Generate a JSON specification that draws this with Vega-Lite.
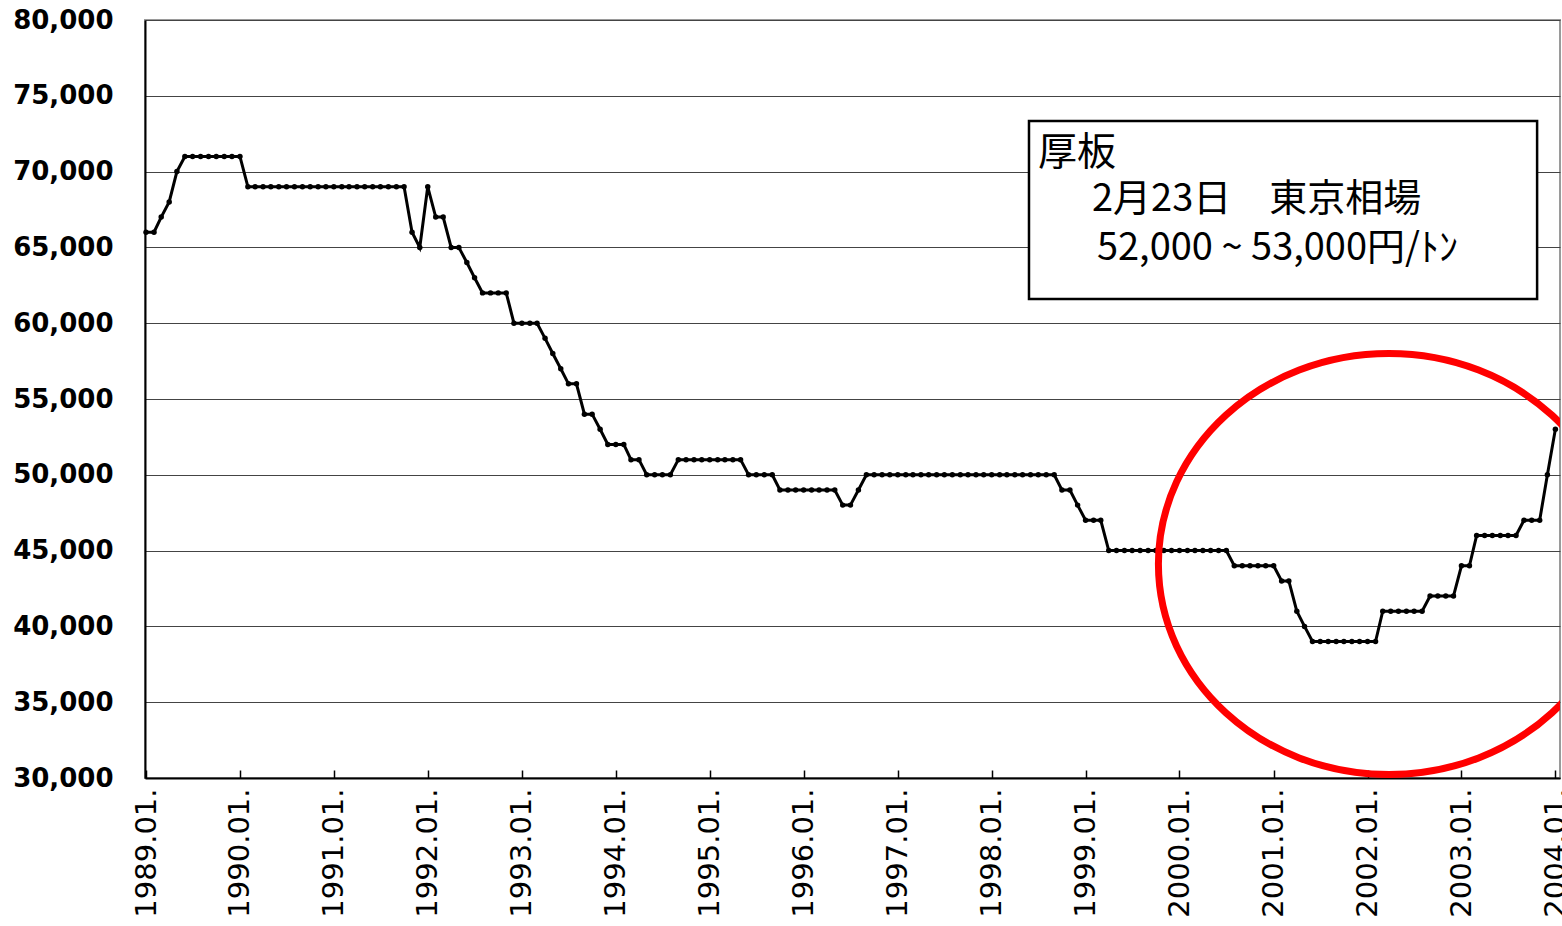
{
  "$schema": "https://vega.github.io/schema/vega-lite/v6.json",
  "width": 1415,
  "height": 758,
  "autosize": {"type": "none"},
  "padding": {"left": 145, "top": 20, "right": 2, "bottom": 148},
  "background": "white",
  "config": {"view": {"stroke": "#9a9a9a", "strokeWidth": 2}, "font": "DejaVu Sans"},
  "data": {"values": [
    {"month": "1989-01-01", "price": 66000},
    {"month": "1989-02-01", "price": 66000},
    {"month": "1989-03-01", "price": 67000},
    {"month": "1989-04-01", "price": 68000},
    {"month": "1989-05-01", "price": 70000},
    {"month": "1989-06-01", "price": 71000},
    {"month": "1989-07-01", "price": 71000},
    {"month": "1989-08-01", "price": 71000},
    {"month": "1989-09-01", "price": 71000},
    {"month": "1989-10-01", "price": 71000},
    {"month": "1989-11-01", "price": 71000},
    {"month": "1989-12-01", "price": 71000},
    {"month": "1990-01-01", "price": 71000},
    {"month": "1990-02-01", "price": 69000},
    {"month": "1990-03-01", "price": 69000},
    {"month": "1990-04-01", "price": 69000},
    {"month": "1990-05-01", "price": 69000},
    {"month": "1990-06-01", "price": 69000},
    {"month": "1990-07-01", "price": 69000},
    {"month": "1990-08-01", "price": 69000},
    {"month": "1990-09-01", "price": 69000},
    {"month": "1990-10-01", "price": 69000},
    {"month": "1990-11-01", "price": 69000},
    {"month": "1990-12-01", "price": 69000},
    {"month": "1991-01-01", "price": 69000},
    {"month": "1991-02-01", "price": 69000},
    {"month": "1991-03-01", "price": 69000},
    {"month": "1991-04-01", "price": 69000},
    {"month": "1991-05-01", "price": 69000},
    {"month": "1991-06-01", "price": 69000},
    {"month": "1991-07-01", "price": 69000},
    {"month": "1991-08-01", "price": 69000},
    {"month": "1991-09-01", "price": 69000},
    {"month": "1991-10-01", "price": 69000},
    {"month": "1991-11-01", "price": 66000},
    {"month": "1991-12-01", "price": 65000},
    {"month": "1992-01-01", "price": 69000},
    {"month": "1992-02-01", "price": 67000},
    {"month": "1992-03-01", "price": 67000},
    {"month": "1992-04-01", "price": 65000},
    {"month": "1992-05-01", "price": 65000},
    {"month": "1992-06-01", "price": 64000},
    {"month": "1992-07-01", "price": 63000},
    {"month": "1992-08-01", "price": 62000},
    {"month": "1992-09-01", "price": 62000},
    {"month": "1992-10-01", "price": 62000},
    {"month": "1992-11-01", "price": 62000},
    {"month": "1992-12-01", "price": 60000},
    {"month": "1993-01-01", "price": 60000},
    {"month": "1993-02-01", "price": 60000},
    {"month": "1993-03-01", "price": 60000},
    {"month": "1993-04-01", "price": 59000},
    {"month": "1993-05-01", "price": 58000},
    {"month": "1993-06-01", "price": 57000},
    {"month": "1993-07-01", "price": 56000},
    {"month": "1993-08-01", "price": 56000},
    {"month": "1993-09-01", "price": 54000},
    {"month": "1993-10-01", "price": 54000},
    {"month": "1993-11-01", "price": 53000},
    {"month": "1993-12-01", "price": 52000},
    {"month": "1994-01-01", "price": 52000},
    {"month": "1994-02-01", "price": 52000},
    {"month": "1994-03-01", "price": 51000},
    {"month": "1994-04-01", "price": 51000},
    {"month": "1994-05-01", "price": 50000},
    {"month": "1994-06-01", "price": 50000},
    {"month": "1994-07-01", "price": 50000},
    {"month": "1994-08-01", "price": 50000},
    {"month": "1994-09-01", "price": 51000},
    {"month": "1994-10-01", "price": 51000},
    {"month": "1994-11-01", "price": 51000},
    {"month": "1994-12-01", "price": 51000},
    {"month": "1995-01-01", "price": 51000},
    {"month": "1995-02-01", "price": 51000},
    {"month": "1995-03-01", "price": 51000},
    {"month": "1995-04-01", "price": 51000},
    {"month": "1995-05-01", "price": 51000},
    {"month": "1995-06-01", "price": 50000},
    {"month": "1995-07-01", "price": 50000},
    {"month": "1995-08-01", "price": 50000},
    {"month": "1995-09-01", "price": 50000},
    {"month": "1995-10-01", "price": 49000},
    {"month": "1995-11-01", "price": 49000},
    {"month": "1995-12-01", "price": 49000},
    {"month": "1996-01-01", "price": 49000},
    {"month": "1996-02-01", "price": 49000},
    {"month": "1996-03-01", "price": 49000},
    {"month": "1996-04-01", "price": 49000},
    {"month": "1996-05-01", "price": 49000},
    {"month": "1996-06-01", "price": 48000},
    {"month": "1996-07-01", "price": 48000},
    {"month": "1996-08-01", "price": 49000},
    {"month": "1996-09-01", "price": 50000},
    {"month": "1996-10-01", "price": 50000},
    {"month": "1996-11-01", "price": 50000},
    {"month": "1996-12-01", "price": 50000},
    {"month": "1997-01-01", "price": 50000},
    {"month": "1997-02-01", "price": 50000},
    {"month": "1997-03-01", "price": 50000},
    {"month": "1997-04-01", "price": 50000},
    {"month": "1997-05-01", "price": 50000},
    {"month": "1997-06-01", "price": 50000},
    {"month": "1997-07-01", "price": 50000},
    {"month": "1997-08-01", "price": 50000},
    {"month": "1997-09-01", "price": 50000},
    {"month": "1997-10-01", "price": 50000},
    {"month": "1997-11-01", "price": 50000},
    {"month": "1997-12-01", "price": 50000},
    {"month": "1998-01-01", "price": 50000},
    {"month": "1998-02-01", "price": 50000},
    {"month": "1998-03-01", "price": 50000},
    {"month": "1998-04-01", "price": 50000},
    {"month": "1998-05-01", "price": 50000},
    {"month": "1998-06-01", "price": 50000},
    {"month": "1998-07-01", "price": 50000},
    {"month": "1998-08-01", "price": 50000},
    {"month": "1998-09-01", "price": 50000},
    {"month": "1998-10-01", "price": 49000},
    {"month": "1998-11-01", "price": 49000},
    {"month": "1998-12-01", "price": 48000},
    {"month": "1999-01-01", "price": 47000},
    {"month": "1999-02-01", "price": 47000},
    {"month": "1999-03-01", "price": 47000},
    {"month": "1999-04-01", "price": 45000},
    {"month": "1999-05-01", "price": 45000},
    {"month": "1999-06-01", "price": 45000},
    {"month": "1999-07-01", "price": 45000},
    {"month": "1999-08-01", "price": 45000},
    {"month": "1999-09-01", "price": 45000},
    {"month": "1999-10-01", "price": 45000},
    {"month": "1999-11-01", "price": 45000},
    {"month": "1999-12-01", "price": 45000},
    {"month": "2000-01-01", "price": 45000},
    {"month": "2000-02-01", "price": 45000},
    {"month": "2000-03-01", "price": 45000},
    {"month": "2000-04-01", "price": 45000},
    {"month": "2000-05-01", "price": 45000},
    {"month": "2000-06-01", "price": 45000},
    {"month": "2000-07-01", "price": 45000},
    {"month": "2000-08-01", "price": 44000},
    {"month": "2000-09-01", "price": 44000},
    {"month": "2000-10-01", "price": 44000},
    {"month": "2000-11-01", "price": 44000},
    {"month": "2000-12-01", "price": 44000},
    {"month": "2001-01-01", "price": 44000},
    {"month": "2001-02-01", "price": 43000},
    {"month": "2001-03-01", "price": 43000},
    {"month": "2001-04-01", "price": 41000},
    {"month": "2001-05-01", "price": 40000},
    {"month": "2001-06-01", "price": 39000},
    {"month": "2001-07-01", "price": 39000},
    {"month": "2001-08-01", "price": 39000},
    {"month": "2001-09-01", "price": 39000},
    {"month": "2001-10-01", "price": 39000},
    {"month": "2001-11-01", "price": 39000},
    {"month": "2001-12-01", "price": 39000},
    {"month": "2002-01-01", "price": 39000},
    {"month": "2002-02-01", "price": 39000},
    {"month": "2002-03-01", "price": 41000},
    {"month": "2002-04-01", "price": 41000},
    {"month": "2002-05-01", "price": 41000},
    {"month": "2002-06-01", "price": 41000},
    {"month": "2002-07-01", "price": 41000},
    {"month": "2002-08-01", "price": 41000},
    {"month": "2002-09-01", "price": 42000},
    {"month": "2002-10-01", "price": 42000},
    {"month": "2002-11-01", "price": 42000},
    {"month": "2002-12-01", "price": 42000},
    {"month": "2003-01-01", "price": 44000},
    {"month": "2003-02-01", "price": 44000},
    {"month": "2003-03-01", "price": 46000},
    {"month": "2003-04-01", "price": 46000},
    {"month": "2003-05-01", "price": 46000},
    {"month": "2003-06-01", "price": 46000},
    {"month": "2003-07-01", "price": 46000},
    {"month": "2003-08-01", "price": 46000},
    {"month": "2003-09-01", "price": 47000},
    {"month": "2003-10-01", "price": 47000},
    {"month": "2003-11-01", "price": 47000},
    {"month": "2003-12-01", "price": 50000},
    {"month": "2004-01-01", "price": 53000}
  ]},
  "layer": [
    {
      "mark": {"type": "line", "color": "black", "strokeWidth": 3, "point": {"filled": true, "color": "black", "size": 30}},
      "encoding": {
        "x": {
          "field": "month", "type": "temporal",
          "scale": {"type": "utc", "domain": [{"year": 1988, "month": 12, "date": 28, "utc": true}, {"year": 2004, "month": 1, "date": 19, "utc": true}]},
          "axis": {
            "title": null,
            "values": [
              {"year": 1989, "month": 1, "date": 1, "utc": true},
              {"year": 1990, "month": 1, "date": 1, "utc": true},
              {"year": 1991, "month": 1, "date": 1, "utc": true},
              {"year": 1992, "month": 1, "date": 1, "utc": true},
              {"year": 1993, "month": 1, "date": 1, "utc": true},
              {"year": 1994, "month": 1, "date": 1, "utc": true},
              {"year": 1995, "month": 1, "date": 1, "utc": true},
              {"year": 1996, "month": 1, "date": 1, "utc": true},
              {"year": 1997, "month": 1, "date": 1, "utc": true},
              {"year": 1998, "month": 1, "date": 1, "utc": true},
              {"year": 1999, "month": 1, "date": 1, "utc": true},
              {"year": 2000, "month": 1, "date": 1, "utc": true},
              {"year": 2001, "month": 1, "date": 1, "utc": true},
              {"year": 2002, "month": 1, "date": 1, "utc": true},
              {"year": 2003, "month": 1, "date": 1, "utc": true},
              {"year": 2004, "month": 1, "date": 1, "utc": true}
            ],
            "format": "%Y.%m.",
            "labelAngle": -90,
            "labelFont": "DejaVu Sans",
            "labelFontWeight": "normal",
            "labelFontSize": 29,
            "labelColor": "black",
            "labelPadding": 18,
            "labelFlush": false,
            "labelOverlap": false,
            "labelBound": false,
            "tickSize": -8,
            "tickColor": "black",
            "tickWidth": 1.5,
            "domainColor": "black",
            "domainWidth": 2,
            "grid": false
          }
        },
        "y": {
          "field": "price", "type": "quantitative",
          "scale": {"domain": [30000, 80000], "nice": false, "zero": false},
          "axis": {
            "title": null,
            "values": [30000, 35000, 40000, 45000, 50000, 55000, 60000, 65000, 70000, 75000, 80000],
            "format": ",d",
            "labelFont": "DejaVu Sans",
            "labelFontWeight": "bold",
            "labelFontSize": 26,
            "labelColor": "black",
            "labelPadding": 32,
            "ticks": false,
            "domainColor": "black",
            "domainWidth": 2,
            "grid": true,
            "gridColor": "#444444",
            "gridWidth": 1
          }
        }
      }
    },
    {
      "data": {"values": [{}]},
      "mark": {"type": "point", "shape": "M -1 0 A 1 0.913 0 1 1 1 0 A 1 0.913 0 1 1 -1 0 Z", "size": 212521, "filled": false, "stroke": "#ff0000", "strokeWidth": 7, "opacity": 1, "clip": true},
      "encoding": {
        "x": {"datum": {"year": 2002, "month": 3, "date": 25, "utc": true}, "type": "temporal"},
        "y": {"datum": 44116, "type": "quantitative"}
      }
    },
    {
      "data": {"values": [{}]},
      "mark": {"type": "rect", "fill": "white", "stroke": "black", "strokeWidth": 2.5},
      "encoding": {
        "x": {"datum": {"year": 1998, "month": 5, "date": 26, "utc": true}, "type": "temporal"},
        "x2": {"datum": {"year": 2003, "month": 10, "date": 22, "utc": true}},
        "y": {"datum": 73338, "type": "quantitative"},
        "y2": {"datum": 61596}
      }
    },
    {
      "data": {"values": [{}]},
      "mark": {"type": "text", "text": "厚板", "align": "left", "baseline": "alphabetic", "font": "Noto Sans CJK JP", "fontSize": 39, "color": "black"},
      "encoding": {
        "x": {"datum": {"year": 1998, "month": 6, "date": 30, "utc": true}, "type": "temporal"},
        "y": {"datum": 70450, "type": "quantitative"}
      }
    },
    {
      "data": {"values": [{}]},
      "mark": {"type": "text", "text": "2月23日　東京相場", "align": "left", "baseline": "alphabetic", "font": "Noto Sans CJK JP", "fontSize": 38, "color": "black"},
      "encoding": {
        "x": {"datum": {"year": 1999, "month": 1, "date": 26, "utc": true}, "type": "temporal"},
        "y": {"datum": 67420, "type": "quantitative"}
      }
    },
    {
      "data": {"values": [{}]},
      "mark": {"type": "text", "text": "52,000 ~ 53,000円/ﾄﾝ", "align": "left", "baseline": "alphabetic", "font": "Noto Sans CJK JP", "fontSize": 38, "color": "black"},
      "encoding": {
        "x": {"datum": {"year": 1999, "month": 2, "date": 14, "utc": true}, "type": "temporal"},
        "y": {"datum": 64169, "type": "quantitative"}
      }
    }
  ]
}
